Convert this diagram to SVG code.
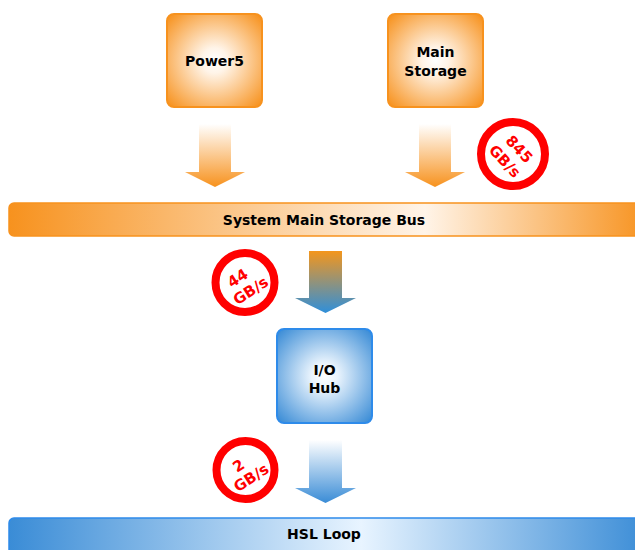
<svg xmlns="http://www.w3.org/2000/svg" width="635" height="550" viewBox="0 0 635 550">
<defs>
<radialGradient id="gOrangeBox" cx="50%" cy="50%" r="68%">
<stop offset="0" stop-color="#FFFFFF"/>
<stop offset="0.2" stop-color="#FFF4E8"/>
<stop offset="1" stop-color="#F7921E"/>
</radialGradient>
<radialGradient id="gBlueBox" cx="50%" cy="50%" r="68%">
<stop offset="0" stop-color="#FFFFFF"/>
<stop offset="0.2" stop-color="#EAF4FD"/>
<stop offset="1" stop-color="#3A8CD6"/>
</radialGradient>
<linearGradient id="gBus" x1="0" y1="0" x2="1" y2="0">
<stop offset="0" stop-color="#F7921E"/>
<stop offset="0.65" stop-color="#FFF4E8"/>
<stop offset="1" stop-color="#F7921E"/>
</linearGradient>
<linearGradient id="gLoop" x1="0" y1="0" x2="1" y2="0">
<stop offset="0" stop-color="#3A8CD6"/>
<stop offset="0.55" stop-color="#E8F4FF"/>
<stop offset="1" stop-color="#3A8CD6"/>
</linearGradient>
<linearGradient id="gArrO" x1="0" y1="0" x2="0" y2="1">
<stop offset="0" stop-color="#FFFFFF"/>
<stop offset="1" stop-color="#F7921E"/>
</linearGradient>
<linearGradient id="gArrOB" x1="0" y1="0" x2="0" y2="1">
<stop offset="0" stop-color="#F4961C"/>
<stop offset="1" stop-color="#2F8FDA"/>
</linearGradient>
<linearGradient id="gArrB" x1="0" y1="0" x2="0" y2="1">
<stop offset="0" stop-color="#FFFFFF"/>
<stop offset="1" stop-color="#3A8CD6"/>
</linearGradient>
</defs>
<style>
.lbl{font-family:"DejaVu Sans","Liberation Sans",sans-serif;font-weight:bold;font-size:14px;fill:#000;text-anchor:middle}
.rate{font-family:"DejaVu Sans","Liberation Sans",sans-serif;font-weight:bold;font-size:15px;fill:#FF0000;text-anchor:middle}
.obox{fill:url(#gOrangeBox);stroke:#F7921E;stroke-width:2}
.bbox{fill:url(#gBlueBox);stroke:#2E8BEA;stroke-width:2}
.ring{fill:#FFFFFF;stroke:#FF0000;stroke-width:8}
</style>

<g id="power5">
<rect class="obox" x="167" y="14" width="95" height="93" rx="7"/>
<text class="lbl" x="214.5" y="66">Power5</text>
</g>

<g id="main-storage">
<rect class="obox" x="388" y="14" width="95" height="93" rx="7"/>
<text class="lbl" x="435.5" y="57">Main</text>
<text class="lbl" x="435.5" y="75.5">Storage</text>
</g>

<g id="system-bus">
<rect x="9" y="203" width="640" height="33" rx="5" fill="url(#gBus)" stroke="#F7921E" stroke-width="1.5"/>
<text class="lbl" x="324" y="224.5">System Main Storage Bus</text>
</g>

<g id="io-hub">
<rect class="bbox" x="277" y="329" width="95" height="94" rx="7"/>
<text class="lbl" x="324.5" y="375">I/O</text>
<text class="lbl" x="324.5" y="393">Hub</text>
</g>

<g id="hsl-loop">
<rect x="9" y="518" width="640" height="40" rx="5" fill="url(#gLoop)" stroke="#2E8BEA" stroke-width="1.5"/>
<text class="lbl" x="324" y="539">HSL Loop</text>
</g>

<g id="connectors">
<polygon points="199,124 231,124 231,172 245,172 215,187 185,172 199,172" fill="url(#gArrO)"/>
<polygon points="419,124 451,124 451,172 465,172 435,187 405,172 419,172" fill="url(#gArrO)"/>
<polygon points="309,251 342,251 342,298 356,298 325.5,313 295,298 309,298" fill="url(#gArrOB)"/>
<polygon points="309,440 342,440 342,488 356,488 325.5,503 295,488 309,488" fill="url(#gArrB)"/>
</g>

<g id="rate-845">
<circle class="ring" cx="513" cy="154" r="32"/>
<g transform="translate(505,161) rotate(47)">
<text class="rate" x="1" y="-13.3">845</text>
<text class="rate" x="0" y="5.5">GB/s</text>
</g>
</g>

<g id="rate-44">
<circle class="ring" cx="245" cy="282.5" r="29.5"/>
<g transform="translate(250.5,290.5) rotate(-33)">
<text class="rate" x="-4" y="-12">44</text>
<text class="rate" x="0" y="5.5">GB/s</text>
</g>
</g>

<g id="rate-2">
<circle class="ring" cx="245.5" cy="470" r="29"/>
<g transform="translate(251,477.5) rotate(-33)">
<text class="rate" x="-4" y="-11.5">2</text>
<text class="rate" x="0" y="5.5">GB/s</text>
</g>
</g>
</svg>
